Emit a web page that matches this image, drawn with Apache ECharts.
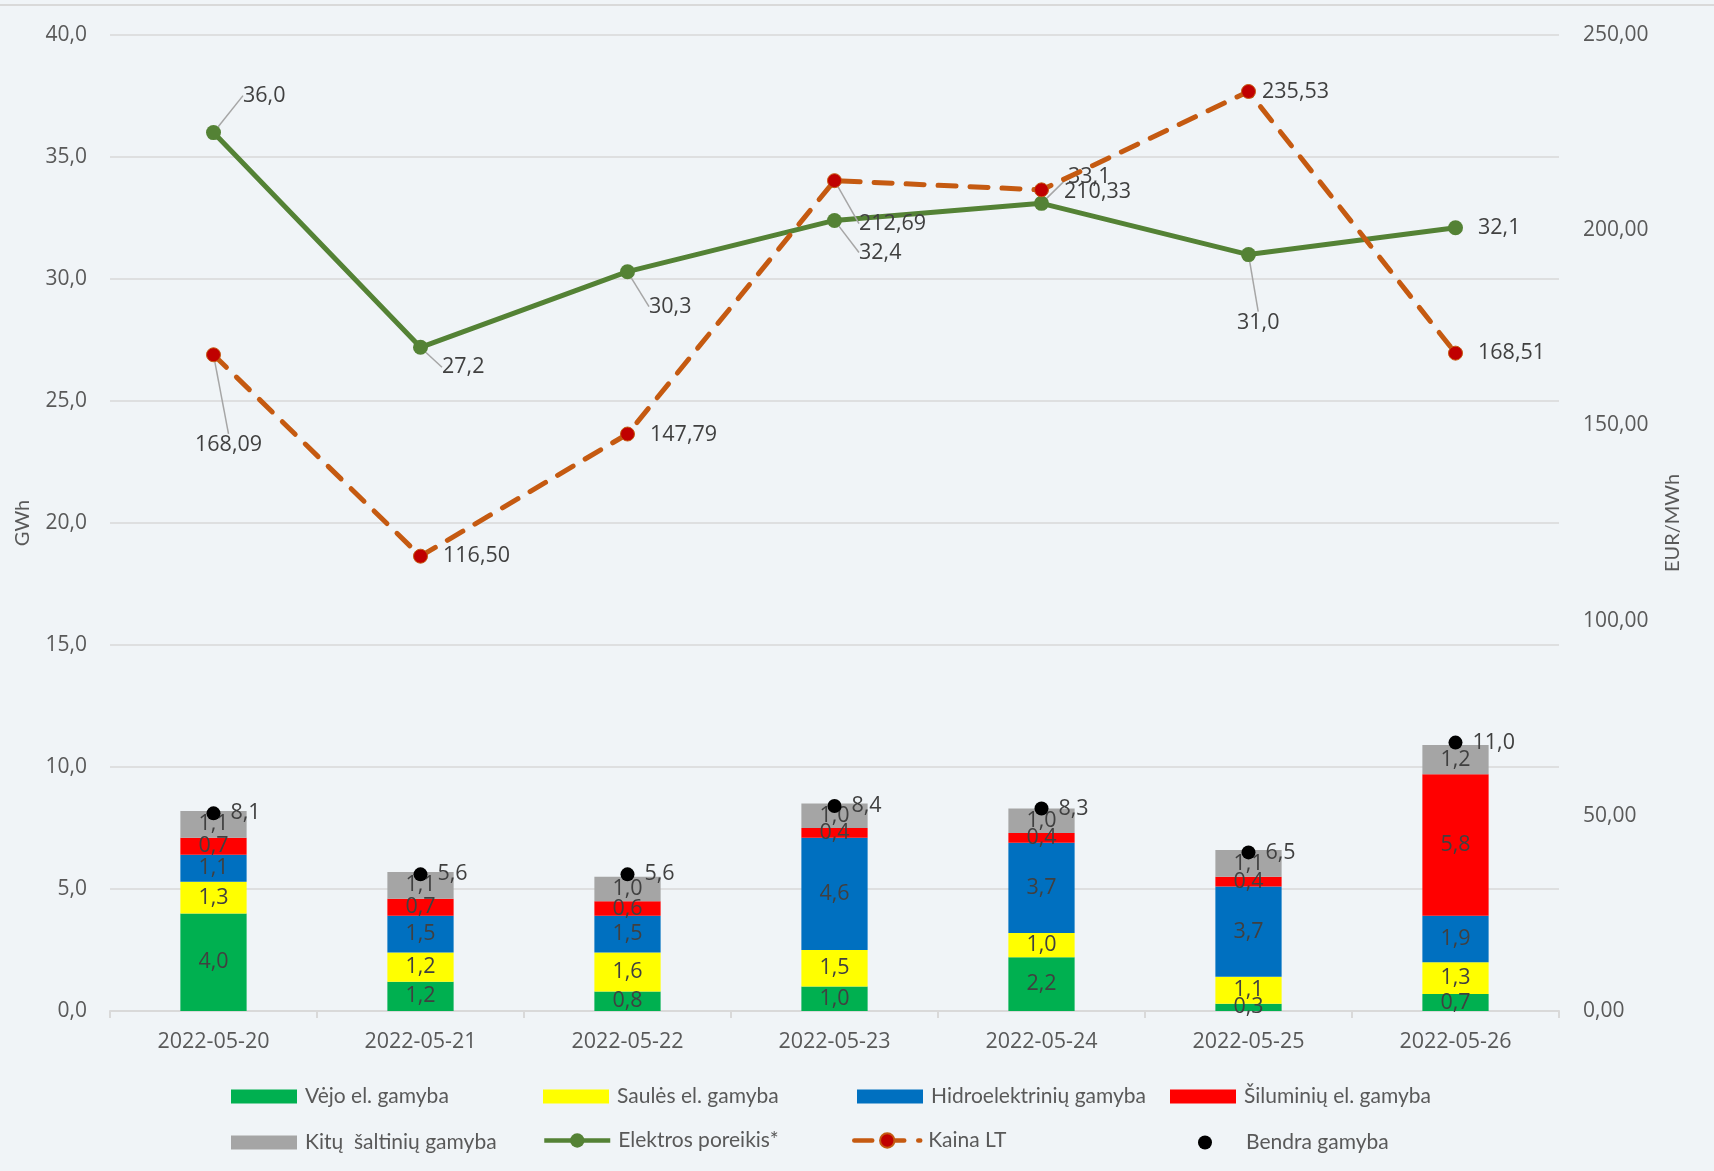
<!DOCTYPE html>
<html>
<head>
<meta charset="utf-8">
<script src="https://cdn.jsdelivr.net/npm/echarts@6/dist/echarts.min.js"></script>
<style>
  html, body { margin: 0; padding: 0; background: #F0F4F7; }
  #chart { width: 1714px; height: 1171px; }
</style>
</head>
<body>
<div id="chart"></div>
<script>
// dienos
const categories = ['2022-05-20', '2022-05-21', '2022-05-22', '2022-05-23', '2022-05-24', '2022-05-25', '2022-05-26']
// gamyba, GWh
const vejo = [4.0, 1.2, 0.8, 1.0, 2.2, 0.3, 0.7]
const saules = [1.3, 1.2, 1.6, 1.5, 1.0, 1.1, 1.3]
const hidro = [1.1, 1.5, 1.5, 4.6, 3.7, 3.7, 1.9]
const siluminiu = [0.7, 0.7, 0.6, 0.4, 0.4, 0.4, 5.8]
const kitu = [1.1, 1.1, 1.0, 1.0, 1.0, 1.1, 1.2]
const bendra = [8.1, 5.6, 5.6, 8.4, 8.3, 6.5, 11.0]
// poreikis, GWh
const poreikis = [36.0, 27.2, 30.3, 32.4, 33.1, 31.0, 32.1]
// kaina, EUR/MWh
const kaina = [168.09, 116.50, 147.79, 212.69, 210.33, 235.53, 168.51]

const names = ['Vėjo el. gamyba', 'Saulės el. gamyba', 'Hidroelektrinių gamyba', 'Šiluminių el. gamyba',
  'Kitų  šaltinių gamyba', 'Elektros poreikis*', 'Kaina LT', 'Bendra gamyba']

const fmt1 = v => v.toFixed(1).replace('.', ',')
const fmt2 = v => v.toFixed(2).replace('.', ',')

const labelFont = { fontFamily: 'Open Sans', fontSize: 21.5, color: '#404040' }
const axisFont = { fontFamily: 'Open Sans', fontSize: 21, color: '#595959' }
const leaderStyle = { show: true, lineStyle: { color: '#A6A6A6', width: 1.5 } }

// label shifts (dx, dy) and which labels get a leader line
const poreikisShift = [[14, -37], [6, 20], [6, 35], [9, 32], [11, -26], [-27, 68], [7, 0]]
const poreikisLeader = [true, true, true, true, true, true, false]
const kainaShift = [[-34, 90], [7, 0], [7, 1], [9, 43], [7, 2], [-2, 0], [7, 0]]
const kainaLeader = [true, false, false, true, false, false, false]

function barSeries(name, data, color) {
  return {
    name: name,
    type: 'bar',
    stack: 'gamyba',
    barWidth: '32%',
    data: data,
    itemStyle: { color: color },
    label: {
      show: true,
      position: 'inside',
      formatter: p => fmt1(p.value),
      ...labelFont
    }
  }
}

// legend layout: [left, top, icon, iconHeight]
const legendSpots = [
  [226, 1081, 'rect', 14], [538, 1081, 'rect', 14], [852, 1081, 'rect', 14], [1165, 1081, 'rect', 14],
  [226, 1127, 'rect', 14], [537, 1125, null, 18], [847, 1125, null, 18], [1193, 1127, 'circle', 14]]

const option = {
  backgroundColor: '#F0F4F7',
  animation: false,
  graphic: [{
    type: 'rect',
    left: 0,
    top: 4,
    shape: { width: 1714, height: 2 },
    style: { fill: '#D9D9D9' }
  }],
  grid: { left: 110, right: 155, top: 35, bottom: 160, containLabel: false, outerBoundsMode: 'none' },
  legend: names.map((n, i) => {
    const item = { name: n }
    if (legendSpots[i][2]) item.icon = legendSpots[i][2]
    return {
      data: [item],
      left: legendSpots[i][0],
      top: legendSpots[i][1],
      itemWidth: 66,
      itemHeight: legendSpots[i][3],
      selectedMode: false,
      lineStyle: { width: 4.5 },
      textStyle: { fontFamily: 'Lato', fontSize: 21, color: '#595959', padding: [0, 0, 0, 3] }
    }
  }),
  xAxis: {
    type: 'category',
    data: categories,
    axisLine: { lineStyle: { color: '#D9D9D9', width: 2 } },
    axisTick: { show: true, length: 7, lineStyle: { color: '#D9D9D9', width: 2 } },
    axisLabel: { ...axisFont, fontSize: 21.5, margin: 20 }
  },
  yAxis: [{
    type: 'value',
    min: 0,
    max: 40,
    interval: 5,
    name: 'GWh',
    nameLocation: 'middle',
    nameGap: 77,
    nameRotate: 90,
    nameTextStyle: { fontFamily: 'Lato', fontSize: 20, color: '#595959' },
    axisLine: { show: false },
    axisTick: { show: false },
    axisLabel: { formatter: v => fmt1(v), ...axisFont, margin: 23 },
    splitLine: { lineStyle: { color: '#D9D9D9', width: 1.5 } }
  }, {
    type: 'value',
    min: 0,
    max: 250,
    interval: 50,
    position: 'right',
    alignTicks: false,
    name: 'EUR/MWh',
    nameLocation: 'middle',
    nameGap: 104,
    nameRotate: 90,
    nameTextStyle: { fontFamily: 'Lato', fontSize: 20, color: '#595959' },
    axisLine: { show: false },
    axisTick: { show: false },
    axisLabel: { formatter: v => fmt2(v), ...axisFont, margin: 24 },
    splitLine: { show: false }
  }],
  series: [
    barSeries(names[0], vejo, '#00B050'),
    barSeries(names[1], saules, '#FFFF00'),
    barSeries(names[2], hidro, '#0070C0'),
    barSeries(names[3], siluminiu, '#FF0000'),
    barSeries(names[4], kitu, '#A5A5A5'),
    {
      name: names[5],
      type: 'line',
      data: poreikis.map((v, i) => ({ value: v, labelLine: { show: poreikisLeader[i] } })),
      symbol: 'circle',
      symbolSize: 15,
      z: 5,
      lineStyle: { color: '#548235', width: 5 },
      itemStyle: { color: '#548235' },
      label: { show: true, position: 'right', distance: 8, formatter: p => fmt1(p.value), ...labelFont },
      labelLine: leaderStyle,
      labelLayout: p => ({ dx: poreikisShift[p.dataIndex][0], dy: poreikisShift[p.dataIndex][1] })
    },
    {
      name: names[6],
      type: 'line',
      yAxisIndex: 1,
      data: kaina.map((v, i) => ({ value: v, labelLine: { show: kainaLeader[i] } })),
      symbol: 'circle',
      symbolSize: 14,
      z: 6,
      lineStyle: { color: '#C55A11', width: 5, type: [18, 14], cap: 'round' },
      itemStyle: { color: '#C00000', borderColor: '#C55A11', borderWidth: 1 },
      label: { show: true, position: 'right', distance: 8, formatter: p => fmt2(p.value), ...labelFont },
      labelLine: leaderStyle,
      labelLayout: p => ({ dx: kainaShift[p.dataIndex][0], dy: kainaShift[p.dataIndex][1] })
    },
    {
      name: names[7],
      type: 'scatter',
      data: bendra,
      symbol: 'circle',
      symbolSize: 14,
      z: 7,
      itemStyle: { color: '#000000', opacity: 1 },
      label: { show: true, position: 'right', distance: 10, formatter: p => fmt1(p.value), ...labelFont }
    }
  ]
}

const myChart = echarts.init(document.getElementById('chart'))
myChart.setOption(option)
</script>
</body>
</html>
